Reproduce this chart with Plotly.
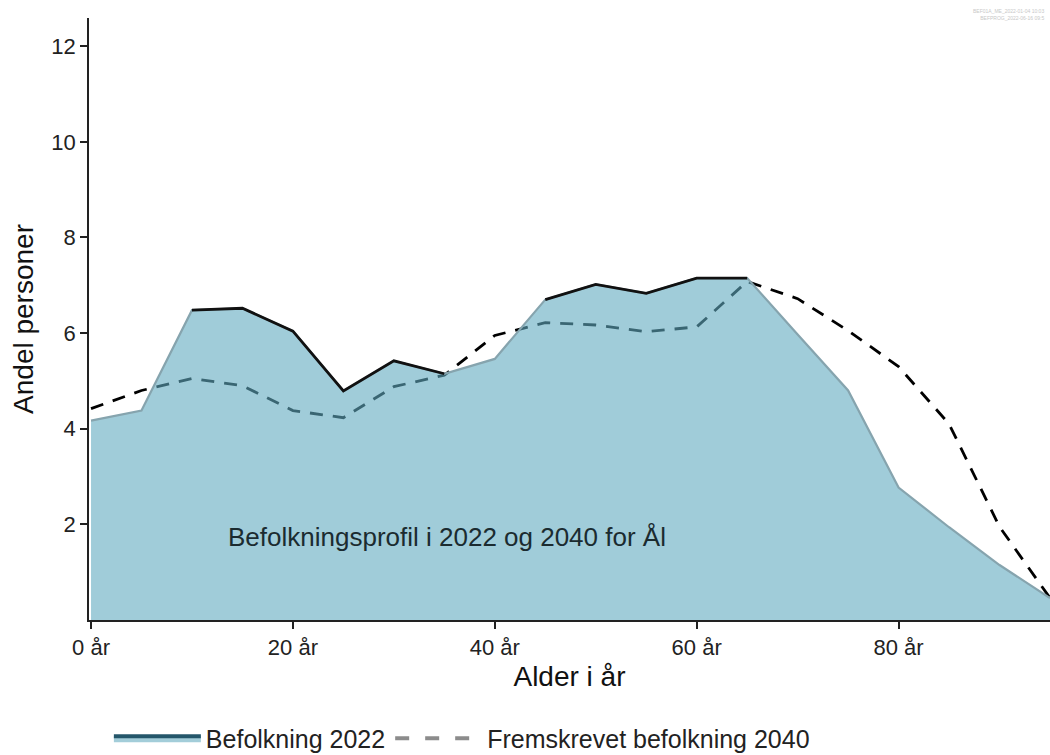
import numpy as np
import plotly.graph_objects as go

ages = [0, 5, 10, 15, 20, 25, 30, 35, 40, 45, 50, 55, 60, 65, 70, 75, 80, 85, 90, 95]
befolkning_2022 = [4.17, 4.38, 6.48, 6.52, 6.04, 4.79, 5.42, 5.15, 5.46, 6.70, 7.02, 6.83, 7.15, 7.15, 5.97, 4.80, 2.77, 1.94, 1.15, 0.46]
fremskrevet_2040 = [4.42, 4.80, 5.05, 4.90, 4.38, 4.23, 4.88, 5.12, 5.95, 6.22, 6.17, 6.03, 6.13, 7.08, 6.72, 6.05, 5.30, 4.10, 1.95, 0.46]
x_tickvals = [0, 20, 40, 60, 80]
x_ticktext = ["0 år", "20 år", "40 år", "60 år", "80 år"]
y_tickvals = [2, 4, 6, 8, 10, 12]

FONT = "Liberation Sans, Arial, sans-serif"

a22 = np.array(befolkning_2022)
a40 = np.array(fremskrevet_2040)
black_part = [float(v) if v >= w else None for v, w in zip(a22, a40)]

fig = go.Figure()

# Projected 2040 (dashed, under the fill)
fig.add_trace(go.Scatter(
    x=ages, y=fremskrevet_2040, mode="lines",
    line=dict(color="black", width=2.8, dash="13px,10px"),
    showlegend=False, hoverinfo="skip"))

# 2022 area (semi-transparent so the dashed line shows through tinted)
fig.add_trace(go.Scatter(
    x=ages, y=befolkning_2022, mode="lines", fill="tozeroy",
    fillcolor="rgba(97,170,192,0.6)",
    line=dict(color="#86a4ae", width=2.2),
    showlegend=False, hoverinfo="skip"))

# 2022 black outline where above 2040
fig.add_trace(go.Scatter(
    x=ages, y=black_part, mode="lines", connectgaps=False,
    line=dict(color="#111111", width=2.8),
    showlegend=False, hoverinfo="skip"))

# Legend entries
fig.add_trace(go.Scatter(
    x=[None], y=[None], mode="lines", fill="toself",
    fillcolor="#a3cdd9", line=dict(color="#24566a", width=4),
    name="Befolkning 2022"))
fig.add_trace(go.Scatter(
    x=[None], y=[None], mode="lines",
    line=dict(color="#8c8c8c", width=4, dash="14px,16px"),
    name="Fremskrevet befolkning 2040"))

fig.add_annotation(
    x=0.143, y=0.138, xref="paper", yref="paper",
    text="Befolkningsprofil i 2022 og 2040 for Ål",
    showarrow=False, xanchor="left", yanchor="middle",
    font=dict(family=FONT, size=26, color="#1b2b30"))

fig.add_annotation(
    x=0.996, y=1.0, xref="paper", yref="paper",
    text="BEF01A_ME_2022-01-04 10:03<br>BEFPROG_2022-06-16 09:5",
    showarrow=False, xanchor="right", yanchor="top", align="right",
    yshift=12,
    font=dict(family=FONT, size=5, color="#c8c8c8"))

fig.update_layout(
    width=1050, height=766,
    margin=dict(l=89, r=0, t=18, b=146),
    paper_bgcolor="white", plot_bgcolor="white",
    font=dict(family=FONT, color="#222222"),
    legend=dict(orientation="h", x=0.388, xanchor="center",
                y=-0.197, yanchor="middle",
                font=dict(family=FONT, size=25, color="#222222"),
                itemwidth=87, bgcolor="rgba(0,0,0,0)"),
)

fig.update_xaxes(
    range=[-0.2, 95], tickvals=x_tickvals, ticktext=x_ticktext,
    showline=True, linecolor="#222222", linewidth=1.5,
    ticks="outside", ticklen=7, tickcolor="#222222", tickwidth=1.5,
    showgrid=False, zeroline=False,
    tickfont=dict(family=FONT, size=22, color="#222222"),
    title=dict(text="Alder i år", standoff=7,
               font=dict(family=FONT, size=28, color="#111111")))

fig.update_yaxes(
    range=[0, 12.59], tickvals=y_tickvals,
    showline=True, linecolor="#222222", linewidth=1.5,
    ticks="outside", ticklen=7, tickcolor="#222222", tickwidth=1.5,
    showgrid=False, zeroline=False,
    tickfont=dict(family=FONT, size=22, color="#222222"),
    title=dict(text="Andel personer", standoff=10,
               font=dict(family=FONT, size=28, color="#111111")))

fig.write_html(
    "out.html",
    config={"displayModeBar": False},
    post_script=("document.documentElement.style.margin='0';"
                 "document.documentElement.style.padding='0';"
                 "document.documentElement.style.overflow='hidden';"
                 "document.body.style.margin='0';"
                 "document.body.style.padding='0';"
                 "document.body.style.overflow='hidden';"))
